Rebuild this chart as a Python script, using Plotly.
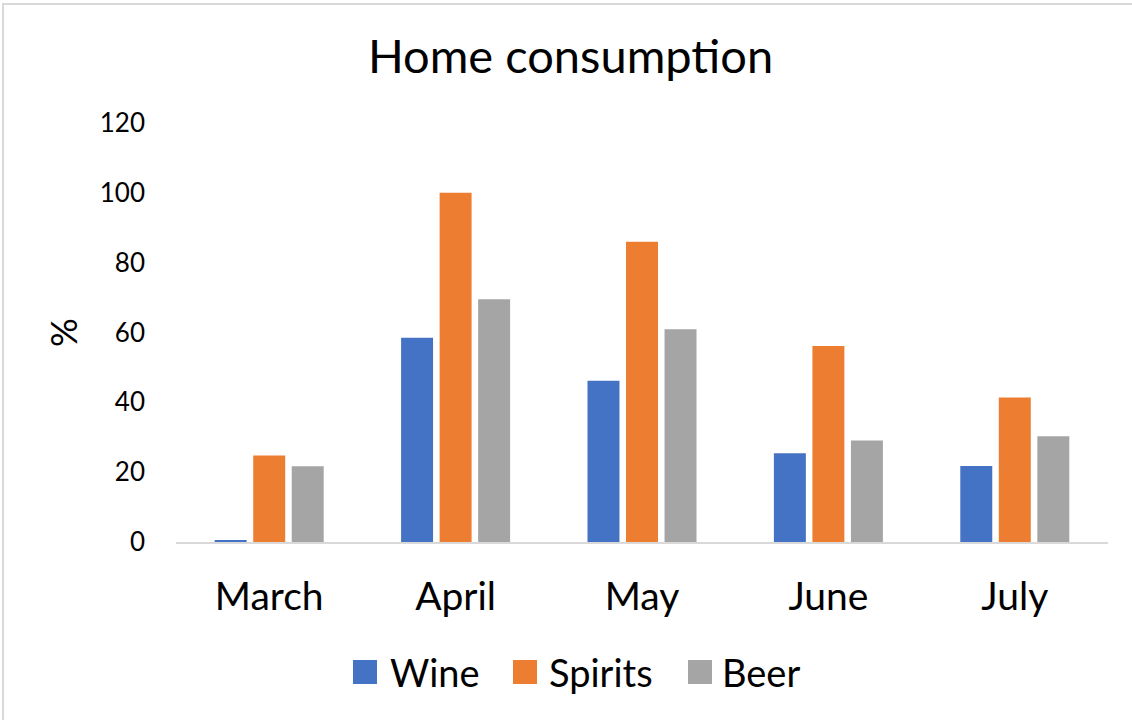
import plotly.graph_objects as go

months = ["March", "April", "May", "June", "July"]
wine = [0.5, 58.5, 46.2, 25.4, 21.8]
spirits = [24.8, 100.0, 86.0, 56.1, 41.4]
beer = [21.7, 69.5, 60.9, 29.1, 30.3]
y_ticks = [0, 20, 40, 60, 80, 100, 120]
series_names = ["Wine", "Spirits", "Beer"]
series_colors = ["#4472C4", "#ED7D31", "#A5A5A5"]

FONT = "Lato"
L, R, T, B = 176, 24, 123, 178
W, H = 1132, 720
PW, PH = W - L - R, H - T - B


def px_x(p):
    return (p - L) / PW


def px_y(p):
    return (H - B - p) / PH


fig = go.Figure()
for name, vals, col in zip(series_names, [wine, spirits, beer], series_colors):
    fig.add_trace(go.Bar(name=name, x=months, y=vals, marker=dict(color=col, line=dict(width=0)),
                         showlegend=False))

fig.update_layout(
    width=W, height=H,
    paper_bgcolor="white", plot_bgcolor="white",
    margin=dict(l=L, r=R, t=T, b=B),
    barmode="group", bargap=0.38, bargroupgap=0.17,
    title=dict(text="Home consumption", x=0.504, xanchor="center", y=1 - 57 / H, yanchor="middle",
               font=dict(family=FONT, size=47, color="black")),
    font=dict(family=FONT, color="black"),
    showlegend=False,
)
fig.update_xaxes(showgrid=False, showline=True, linecolor="#D9D9D9", linewidth=2,
                 ticks="", tickfont=dict(size=39, family=FONT), ticklabelstandoff=19)
fig.update_yaxes(range=[0, 120], tickvals=y_ticks, showgrid=False, showline=False, zeroline=False,
                 ticks="", tickfont=dict(size=26, family=FONT), ticklabelstandoff=30,
                 title=dict(text="%", font=dict(size=36, family=FONT), standoff=11))

# chart frame (left and top edges visible)
fig.add_shape(type="rect", xref="paper", yref="paper", x0=px_x(3), x1=px_x(1140), y0=px_y(730), y1=px_y(4),
              line=dict(color="#D9D9D9", width=2), fillcolor="rgba(0,0,0,0)", layer="below")

# legend drawn manually (large square keys)
sq_left = [353, 513, 688]
txt_left = [389, 548, 721]
for name, col, sl, tl in zip(series_names, series_colors, sq_left, txt_left):
    fig.add_shape(type="rect", xref="paper", yref="paper", x0=px_x(sl), x1=px_x(sl + 24),
                  y0=px_y(684), y1=px_y(660), fillcolor=col, line=dict(width=0))
    fig.add_annotation(xref="paper", yref="paper", x=px_x(tl), y=px_y(672), xanchor="left", yanchor="middle",
                       text=name, showarrow=False, font=dict(family=FONT, size=38, color="black"),
                       borderpad=0)

fig.write_html("out.html", config={"displayModeBar": False},
               post_script="document.body.style.margin='0';document.body.style.overflow='hidden';")
